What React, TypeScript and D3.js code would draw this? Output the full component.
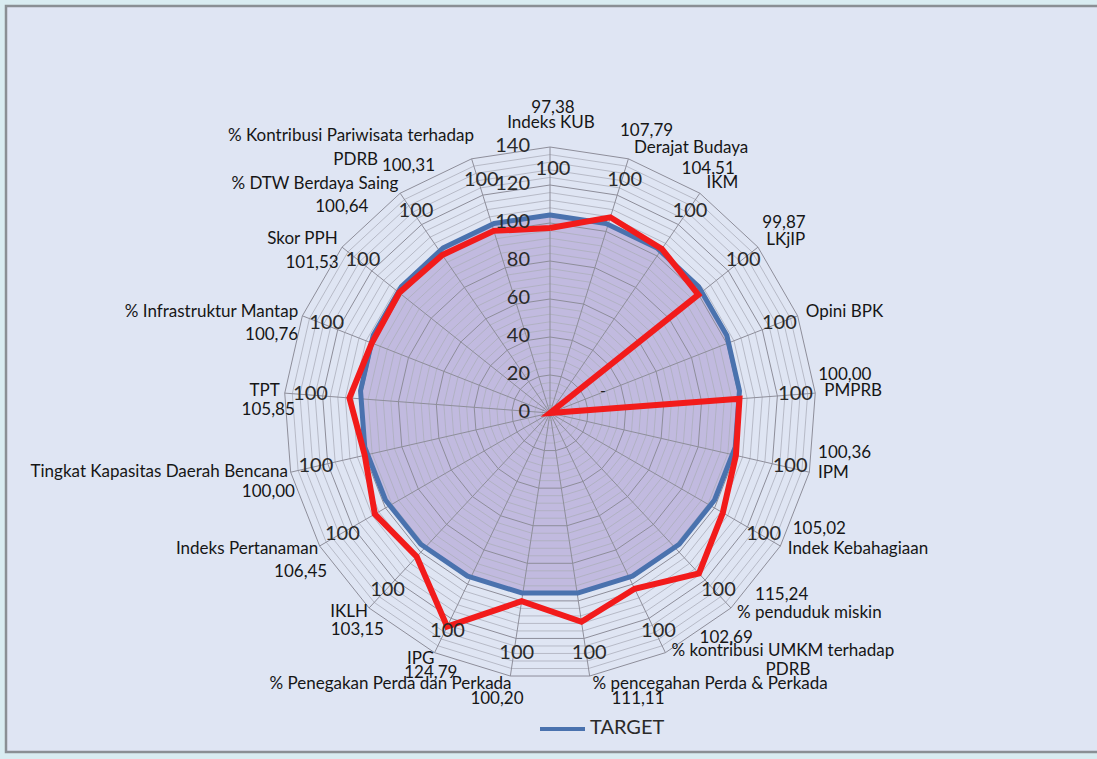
import React from "react";
import * as d3 from "d3";

const categories = [
  "Indeks KUB", "Derajat Budaya", "IKM", "LKjIP", "Opini BPK", "PMPRB", "IPM",
  "Indek Kebahagiaan", "% penduduk miskin", "% kontribusi UMKM terhadap|PDRB",
  "% pencegahan Perda & Perkada", "% Penegakan Perda dan Perkada", "IPG", "IKLH",
  "Indeks Pertanaman", "Tingkat Kapasitas Daerah Bencana", "TPT",
  "% Infrastruktur Mantap", "Skor PPH", "% DTW Berdaya Saing",
  "% Kontribusi Pariwisata terhadap|PDRB",
];
const realisasi = [
  97.38, 107.79, 104.51, 99.87, 0, 100.0, 100.36, 105.02, 115.24, 102.69,
  111.11, 100.2, 124.79, 103.15, 106.45, 100.0, 105.85, 100.76, 101.53, 100.64, 100.31,
];
const realisasiLabels = [
  "97,38", "107,79", "104,51", "99,87", "-", "100,00", "100,36", "105,02", "115,24", "102,69",
  "111,11", "100,20", "124,79", "103,15", "106,45", "100,00", "105,85", "100,76", "101,53", "100,64", "100,31",
];
const target = [
  100, 100, 100, 100, 100, 100, 100, 100, 100, 100, 100, 100, 100, 100, 100, 100, 100, 100, 100, 100, 100,
];
const ticks = [0, 20, 40, 60, 80, 100, 120, 140];

// layout (label offsets relative to the computed label anchor), not data
const nameOff: [number, number][] = [
  [1, -11], [2, 1], [0, 0], [-1, 1], [-3, 1], [-3, -1], [-3, -1], [-3, -2], [-2, -3], [1, -12],
  [1, -3], [3, -3], [5, -4], [7, -4], [9, -2], [9, -2], [7, -1], [7, 1], [5, 0], [5, 1], [6, -11],
];
const line2Off: [number, number][] = [];
line2Off[9] = [95, 7];
line2Off[20] = [-90, 13];
const valOff: [number, number][] = [
  [3, -26], [-12, -16], [-25, -14], [-5, -16], [0, 0], [-9, -17], [-3, -21], [2, -22], [16, -21], [29, -25],
  [20, 12], [15, 12], [28, 10], [23, 14], [18, 21], [16, 18], [22, 18], [7, 24], [6, 24], [-25, 24], [-33, 19],
];

const W = 1097;
const H = 759;
const cx = 550;
const cy = 413;
const FONT = "Lato, 'Open Sans', 'Noto Sans', sans-serif";

export default function App() {
  const n = categories.length;
  const r = d3.scaleLinear().domain([0, 140]).range([0, 266]);
  const angle = (i: number) => (i * 2 * Math.PI) / n;
  const pt = (i: number, v: number): [number, number] => [
    cx + r(v) * Math.sin(angle(i)),
    cy - r(v) * Math.cos(angle(i)),
  ];
  const idx = d3.range(n);
  const ring = (v: number) =>
    d3.line()(idx.map((i) => pt(i, v)).concat([pt(0, v)]) as [number, number][]) || "";
  const minor = d3.range(0, 141, 4);
  const major = d3.range(0, 141, 20);

  const radial = d3
    .lineRadial<number>()
    .angle((_, i) => angle(i))
    .radius((d) => r(d))
    .curve(d3.curveLinearClosed);

  const labelR = 278;

  return (
    <svg
      width={W}
      height={H}
      style={{ position: "absolute", left: 0, top: 0, fontFamily: FONT }}
    >
      <rect x={0} y={0} width={W} height={H} fill="#d9ecf1" />
      <rect x={6} y={6} width={W + 10} height={746} fill="#dfe5f3" stroke="#8a8f94" strokeWidth={2.5} />

      {/* target fill */}
      <g transform={`translate(${cx},${cy - 8})`}>
        <path d={radial(target) || ""} fill="#a592cd" fillOpacity={0.52} stroke="none" />
      </g>

      {/* grid */}
      {minor.filter((v) => v % 20 !== 0).map((v) => (
        <path key={"mi" + v} d={ring(v)} fill="none" stroke="#acaebb" strokeWidth={0.8} />
      ))}
      {major.map((v) => (
        <path key={"ma" + v} d={ring(v)} fill="none" stroke="#8e8e9a" strokeWidth={1} />
      ))}
      {idx.map((i) => {
        const [x, y] = pt(i, 140);
        return <line key={"sp" + i} x1={cx} y1={cy} x2={x} y2={y} stroke="#8e8e9a" strokeWidth={1} />;
      })}

      {/* target line */}
      <g transform={`translate(${cx},${cy - 8})`}>
        <path d={radial(target) || ""} fill="none" stroke="#4a72ae" strokeWidth={5} strokeLinejoin="round" />
      </g>

      {/* realisasi line */}
      <path
        d={(d3.line()(idx.map((i) => pt(i, realisasi[i])).concat([pt(0, realisasi[0])]) as any) || "")}
        fill="none"
        stroke="#f21b1b"
        strokeWidth={6}
        strokeLinejoin="miter"
      />

      {/* axis tick labels */}
      {ticks.map((t) => (
        <text
          key={"t" + t}
          x={cx - 20}
          y={cy - r(t)}
          textAnchor="end"
          dominantBaseline="middle"
          fontSize={20}
          fill="#2a2a2a"
        >
          {t}
        </text>
      ))}

      {/* target value labels */}
      {idx.map((i) => {
        const [x, y] = pt(i, 128);
        return (
          <text key={"tv" + i} x={x + 3} y={y} textAnchor="middle" dominantBaseline="middle" fontSize={20} fill="#2a2a2a">
            {target[i]}
          </text>
        );
      })}

      {/* dash label for zero value */}
      {(() => {
        const [x, y] = pt(4, 30);
        return (
          <text x={x} y={y} textAnchor="middle" dominantBaseline="middle" fontSize={16} fill="#222">
            {realisasiLabels[4]}
          </text>
        );
      })()}

      {/* category + value labels */}
      {idx.map((i) => {
        const a = angle(i);
        const px = cx + labelR * Math.sin(a);
        const py = cy - labelR * Math.cos(a);
        const s = Math.sin(a);
        const anchor = Math.abs(s) < 0.1 ? "middle" : s > 0 ? "start" : "end";
        const parts = categories[i].split("|");
        const [ndx, ndy] = nameOff[i];
        const [vdx, vdy] = valOff[i];
        return (
          <g key={"lab" + i} fontSize={17} fill="#161616">
            <text x={px + ndx} y={py + ndy} textAnchor={anchor} dominantBaseline="middle">
              {parts[0]}
            </text>
            {parts[1] && line2Off[i] && (
              <text
                x={px + line2Off[i][0]}
                y={py + line2Off[i][1]}
                textAnchor={anchor}
                dominantBaseline="middle"
              >
                {parts[1]}
              </text>
            )}
            {i !== 4 && (
              <text x={px + vdx} y={py + vdy} textAnchor={anchor} dominantBaseline="middle">
                {realisasiLabels[i]}
              </text>
            )}
          </g>
        );
      })}

      {/* legend */}
      <line x1={540} y1={729} x2={585} y2={729} stroke="#4a72ae" strokeWidth={4} />
      <text x={590} y={729} dominantBaseline="middle" fontSize={20} fill="#2a2a2a">
        TARGET
      </text>
    </svg>
  );
}
